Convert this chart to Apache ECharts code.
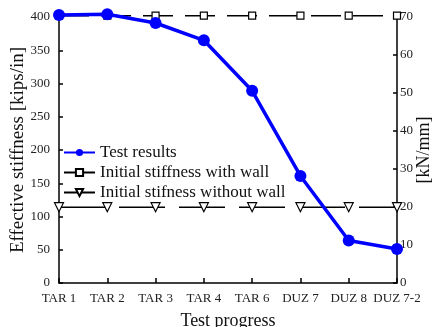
<!DOCTYPE html>
<html>
<head>
<meta charset="utf-8">
<script src="https://cdn.jsdelivr.net/npm/echarts@6/dist/echarts.min.js"></script>
<style>
  html, body { margin: 0; padding: 0; background: #fff; }
  #chart { width: 436px; height: 327px; }
</style>
</head>
<body>
<div id="chart"></div>
<script>
// Test stages along the horizontal axis
const stages = ['TAR 1', 'TAR 2', 'TAR 3', 'TAR 4', 'TAR 6', 'DUZ 7', 'DUZ 8', 'DUZ 7-2'];
// Measured effective stiffness [kips/in]
const testResults = [403, 404, 391, 365, 289, 161, 64, 51];
// Initial stiffness references [kips/in]
const initialWithWall = [402, 402, 402, 402, 402, 402, 402, 402];
const initialWithoutWall = [114, 114, 114, 114, 114, 114, 114, 114];
// Left axis range [kips/in] and right axis range [kN/mm]
const leftMin = 0, leftMax = 400, leftStep = 50;
const rightMin = 0, rightMax = 70, rightStep = 10;

const serif = '"Liberation Serif", "DejaVu Serif", serif';
const chart = echarts.init(document.getElementById('chart'), null, { renderer: 'canvas' });

chart.setOption({
  animation: false,
  backgroundColor: '#fff',
  grid: { left: 59, right: 39, top: 17, bottom: 44, containLabel: false, outerBoundsMode: 'none' },
  legend: {
    orient: 'vertical',
    left: 63,
    top: 144,
    itemWidth: 31,
    itemHeight: 9,
    itemGap: 3,
    padding: 0,
    lineStyle: { type: 'solid' },
    textStyle: { fontFamily: serif, fontSize: 17, color: '#111' },
    data: ['Test results', 'Initial stiffness with wall', 'Initial stifness without wall']
  },
  xAxis: {
    type: 'category',
    data: stages,
    boundaryGap: false,
    name: 'Test progress',
    nameLocation: 'middle',
    nameGap: 29,
    nameMoveOverlap: false,
    nameTextStyle: { fontFamily: serif, fontSize: 18, color: '#111' },
    axisLine: { lineStyle: { color: '#000', width: 1.5 } },
    axisTick: { inside: true, length: 5, interval: 0, lineStyle: { color: '#000', width: 1.5 } },
    axisLabel: { fontFamily: serif, fontSize: 13, color: '#222', margin: 9, interval: 0 },
    splitLine: { show: false }
  },
  yAxis: [
    {
      type: 'value',
      min: leftMin, max: leftMax, interval: leftStep,
      name: 'Effective stiffness [kips/in]',
      nameLocation: 'middle',
      nameGap: 31,
      nameMoveOverlap: false,
      nameTextStyle: { fontFamily: serif, fontSize: 19, color: '#111' },
      axisLine: { show: true, lineStyle: { color: '#000', width: 1.5 } },
      axisTick: { show: true, inside: true, length: 4, lineStyle: { color: '#000', width: 1.5 } },
      axisLabel: { fontFamily: serif, fontSize: 13, color: '#222', margin: 9 },
      splitLine: { show: false }
    },
    {
      type: 'value',
      position: 'right',
      min: rightMin, max: rightMax, interval: rightStep,
      name: '[kN/mm]',
      nameLocation: 'middle',
      nameGap: 18,
      nameMoveOverlap: false,
      nameRotate: 90,
      nameTextStyle: { fontFamily: serif, fontSize: 18, color: '#111' },
      axisLine: { show: true, lineStyle: { color: '#000', width: 1.5 } },
      axisTick: { show: true, inside: true, length: 4, lineStyle: { color: '#000', width: 1.5 } },
      axisLabel: { fontFamily: serif, fontSize: 13, color: '#222', margin: 3 },
      splitLine: { show: false }
    }
  ],
  series: [
    {
      name: 'Initial stiffness with wall',
      type: 'line',
      data: initialWithWall,
      clip: false,
      symbol: 'rect',
      symbolSize: 7,
      itemStyle: { color: '#fff', borderColor: '#000', borderWidth: 1.2 },
      lineStyle: { color: '#000', width: 1.5, type: [30, 12] },
      z: 2
    },
    {
      name: 'Initial stifness without wall',
      type: 'line',
      data: initialWithoutWall,
      clip: false,
      symbol: 'triangle',
      symbolRotate: 180,
      symbolSize: 9,
      itemStyle: { color: '#fff', borderColor: '#000', borderWidth: 1.2 },
      lineStyle: { color: '#000', width: 1.5, type: [46, 14] },
      z: 2
    },
    {
      name: 'Test results',
      type: 'line',
      data: testResults,
      clip: false,
      symbol: 'circle',
      symbolSize: 12,
      itemStyle: { color: '#0000ff' },
      lineStyle: { color: '#0000ff', width: 3.5 },
      z: 3
    }
  ]
});
</script>
</body>
</html>
